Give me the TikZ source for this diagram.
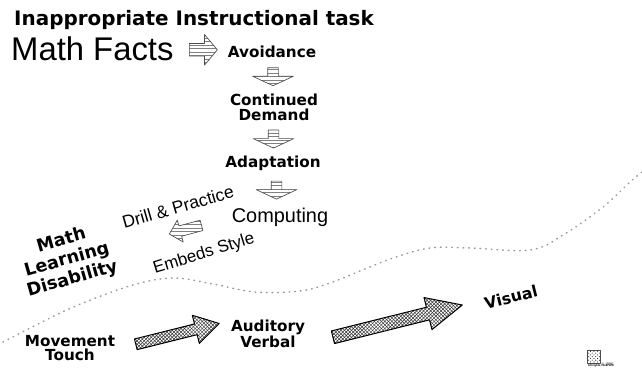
\documentclass[tikz,border=0pt]{standalone}
\usepackage{fontspec}
\setmainfont{Liberation Sans}
\newfontfamily\heavyfont{DejaVu Sans}
\usetikzlibrary{shapes.arrows,patterns,calc}

\begin{document}
\begin{tikzpicture}[x = .3mm, y = -.3mm, line join = round, line cap = round,
	heavy/.style = {font = \heavyfont\bfseries\fontsize{13}{12.5}\selectfont, align = center, inner sep = 0pt},
	plain/.style = {font = \fontsize{14.5}{16}\selectfont, inner sep = 0pt},
	hatcharrow/.style = {single arrow, draw = gray!60!black, line width = .2mm, pattern = horizontal lines, pattern color = gray, inner xsep = 0pt},
	meshedarrow/.style = {single arrow, draw = black, line width = .3mm, pattern = crosshatch, pattern color = black!80, inner xsep = 0pt},
	droparrow/.style = {hatcharrow, rotate = -90, inner ysep = 1.5mm, minimum height = 5.4mm, single arrow head extend = 4.5mm, single arrow tip angle = 130}]
	\useasboundingbox (0,0) rectangle (642,376);
	
	% heading and the chain down the middle
	\node[heavy, font = \heavyfont\bfseries\fontsize{17}{20}\selectfont, anchor = base west] (title) at (14,25) {Inappropriate Instructional task};
	\node[inner sep = 0pt, font = \fontsize{28}{32}\selectfont, anchor = base west] (facts) at (11,60) {Math Facts};
	\node[heavy, anchor = base] (avoid) at (272,57) {Avoidance};
	\node[heavy] (demand) at (274,107) {Continued\\Demand};
	\node[heavy, anchor = base] (adapt) at (273,167) {Adaptation};
	\node[inner sep = 0pt, font = \fontsize{17}{20}\selectfont, anchor = base] (comp) at (280,222) {Computing};
	
	\node[hatcharrow, inner ysep = 1.8mm, minimum height = 8.4mm, single arrow head extend = 2.7mm, single arrow tip angle = 100] (a0) at ($(facts.east)!.5!(avoid.west)$) {};
	\node[droparrow] (a1) at ($(avoid.south)!.5!(demand.north)$) {};
	\node[droparrow] (a2) at ($(demand.south)!.5!(adapt.north)$) {};
	\node[droparrow] (a3) at ($(adapt.south)!.5!(comp.north)$) {};
	
	% the way back to drill
	\node[plain, font = \fontsize{15}{16}\selectfont, rotate = 16] (drill) at (178,207) {Drill \& Practice};
	\node[plain, rotate = 17] (embeds) at (204,254) {Embeds Style};
	\node[hatcharrow, rotate = 195, inner ysep = 1.5mm, minimum height = 10mm, single arrow head extend = 1.8mm] (back) at (188,229) {};
	\node[heavy, font = \heavyfont\bfseries\fontsize{15}{17}\selectfont, rotate = 16] (mld) at (67,260) {Math\\Learning\\Disability};
	
	% dotted divide
	\draw[gray!80, line width = .45mm, dash pattern = on .2mm off 1.5mm] plot[smooth, tension = .6] coordinates {(3,342) (50,318) (83,303) (133,285) (173,278) (213,284) (255,292) (300,291) (330,283) (360,271) (393,258) (430,248) (470,248) (530,250) (563,235) (603,207) (630,182) (642,172)};
	
	% modalities along the bottom
	\node[heavy] (move) at (70,348) {Movement\\Touch};
	\node[heavy] (aud) at (268,334) {Auditory\\Verbal};
	\node[heavy, font = \heavyfont\bfseries\fontsize{13.5}{14}\selectfont, rotate = 14] (vis) at (511,297) {Visual};
	\node[meshedarrow, rotate = 14, inner ysep = 1.5mm, minimum height = 25.8mm, single arrow head extend = 2.7mm, single arrow tip angle = 62] (m1) at ($(move.east)!.5!(aud.west)+(0,-6)$) {};
	\node[meshedarrow, rotate = 14, inner ysep = 1.8mm, minimum height = 40mm, single arrow head extend = 3mm, single arrow tip angle = 50] (m2) at ($(aud.east)!.5!(vis.west)+(-4,4)$) {};
	
	% stamp in the corner
	\node[draw = black!70, pattern = crosshatch dots, pattern color = black!80, minimum size = 4mm, inner sep = 0pt] (stamp) at (594,357) {};
	\node[anchor = west, inner sep = .5pt, font = \fontsize{3}{3}\selectfont] (year) at (stamp.south east) {\textcopyright\ 1996};
	\node[anchor = north west, inner sep = .5pt, font = \bfseries\fontsize{2.5}{3}\selectfont] (rights) at (stamp.south west) {All rights reserved};
\end{tikzpicture}
\end{document}
